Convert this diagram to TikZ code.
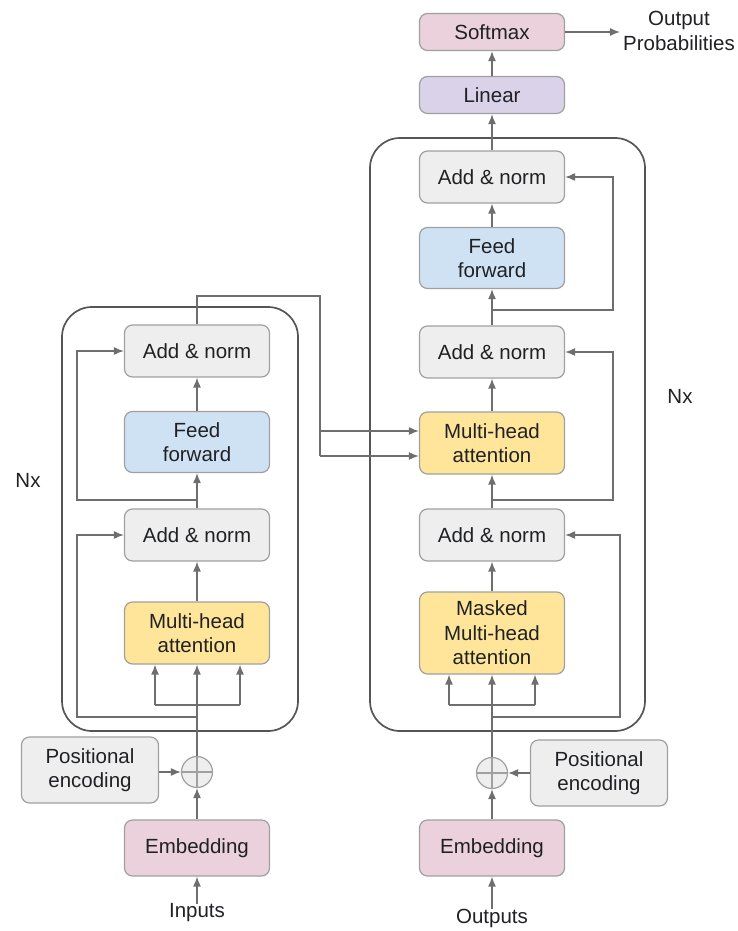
\documentclass[tikz,border=0pt]{standalone}
\usepackage{fontspec}
\setmainfont{Liberation Sans}
\usetikzlibrary{arrows.meta,calc}
\definecolor{boxgray}{HTML}{EEEEEE}
\definecolor{edge}{HTML}{A0A0A0}
\definecolor{ffblue}{HTML}{CFE2F3}
\definecolor{attnyel}{HTML}{FFE599}
\definecolor{embpink}{HTML}{EAD1DC}
\definecolor{linpurple}{HTML}{D9D2E9}
\definecolor{wire}{HTML}{6E6E6E}
\definecolor{framec}{HTML}{555555}
\definecolor{ink}{HTML}{202124}

\begin{document}
\begin{tikzpicture}[x=1pt,y=-1pt,
  font=\fontsize{20.5}{24.5}\selectfont, text=ink,
  blk/.style={draw=edge, line width=1.2pt, rounded corners=8pt,
              minimum width=145pt, align=center, inner sep=0pt},
  gbox/.style={blk, fill=boxgray, minimum height=52pt},
  ffbox/.style={blk, fill=ffblue, minimum height=61pt},
  attbox/.style={blk, fill=attnyel, minimum height=62pt},
  mattbox/.style={blk, fill=attnyel, minimum height=82pt},
  embbox/.style={blk, fill=embpink, minimum height=56pt},
  linbox/.style={blk, fill=linpurple, minimum height=37pt},
  smbox/.style={blk, fill=embpink, minimum height=37pt},
  pebox/.style={blk, fill=boxgray, minimum width=137pt, minimum height=66pt},
  frame/.style={draw=framec, line width=1.7pt, rounded corners=30pt, inner sep=0pt},
  plus/.style={circle, draw=edge, fill=boxgray, line width=1.2pt, minimum size=31pt, inner sep=0pt,
    path picture={\draw[edge, line width=1.2pt]
      (path picture bounding box.north) -- (path picture bounding box.south)
      (path picture bounding box.west) -- (path picture bounding box.east);}},
  lbl/.style={align=center, inner sep=0pt},
  ln/.style={draw=wire, line width=1.3pt},
  arr/.style={ln, -{Latex[length=10pt,width=8pt]}}
]
\useasboundingbox (0,0) rectangle (737,931);

% ---------- frames ----------
\node[frame, minimum width=236pt, minimum height=424pt] (encframe) at (180,519) {};
\node[frame, minimum width=275pt, minimum height=593pt] (decframe) at (507.5,434.5) {};
\node[lbl] (encnx) at (28,480) {Nx};
\node[lbl] (decnx) at (680,396) {Nx};

% ---------- encoder ----------
\node[lbl] (inp) at (197,913) {Inputs};
\node[embbox] (eemb) at (197,848) {Embedding};
\node[plus] (eplus) at (197,772) {};
\node[pebox] (epe) at (90,770) {Positional\\encoding};
\node[attbox] (emha) at (197,633) {Multi-head\\attention};
\node[gbox] (ean1) at (197,535) {Add \& norm};
\node[ffbox] (eff) at (197,442) {Feed\\forward};
\node[gbox] (ean2) at (197,351) {Add \& norm};

\coordinate (elx) at (77,0);
\coordinate (esl) at (155,705);
\coordinate (esr) at (240,705);
\coordinate (eres1) at (197,717);
\coordinate (eres2) at (197,500);

\draw[arr] (inp.north) -- (eemb.south);
\draw[arr] (eemb) -- (eplus);
\draw[arr] (epe.east |- eplus) -- (eplus);
\draw[arr] (eplus) -- (emha.south);
\draw[ln] (esl) -- (esr);
\draw[arr] (esl) -- (esl |- emha.south);
\draw[arr] (esr) -- (esr |- emha.south);
\draw[arr] (eres1) -- (eres1 -| elx) |- (ean1.west);
\draw[arr] (emha) -- (ean1);
\draw[arr] (ean1) -- (eff);
\draw[arr] (eres2) -- (eres2 -| elx) |- (ean2.west);
\draw[arr] (eff) -- (ean2);

% ---------- decoder ----------
\node[lbl] (outp) at (492,918) {Outputs};
\node[embbox] (demb) at (492,848) {Embedding};
\node[plus] (dplus) at (492,773) {};
\node[pebox] (dpe) at (599,773) {Positional\\encoding};
\node[mattbox] (dmmha) at (492,633) {Masked\\Multi-head\\attention};
\node[gbox] (dan1) at (492,535) {Add \& norm};
\node[attbox] (dmha) at (492,443) {Multi-head\\attention};
\node[gbox] (dan2) at (492,352) {Add \& norm};
\node[ffbox] (dff) at (492,258) {Feed\\forward};
\node[gbox] (dan3) at (492,177) {Add \& norm};
\node[linbox] (dlin) at (492,95) {Linear};
\node[smbox] (dsm) at (492,32) {Softmax};
\node[lbl] (prob) at (679,31) {Output\\Probabilities};

\coordinate (drx1) at (620,0);
\coordinate (drx2) at (613,0);
\coordinate (dsl) at (449,705);
\coordinate (dsr) at (535,705);
\coordinate (dres1) at (492,717);
\coordinate (dres2) at (492,500);
\coordinate (dres3) at (492,310);

\draw[arr] (outp.north) -- (demb.south);
\draw[arr] (demb) -- (dplus);
\draw[arr] (dpe.west |- dplus) -- (dplus);
\draw[arr] (dplus) -- (dmmha.south);
\draw[ln] (dsl) -- (dsr);
\draw[arr] (dsl) -- (dsl |- dmmha.south);
\draw[arr] (dsr) -- (dsr |- dmmha.south);
\draw[arr] (dres1) -- (dres1 -| drx1) |- (dan1.east);
\draw[arr] (dmmha) -- (dan1);
\draw[arr] (dan1) -- (dmha);
\draw[arr] (dres2) -- (dres2 -| drx2) |- (dan2.east);
\draw[arr] (dmha) -- (dan2);
\draw[arr] (dan2) -- (dff);
\draw[arr] (dres3) -- (dres3 -| drx2) |- (dan3.east);
\draw[arr] (dff) -- (dan3);
\draw[arr] (dan3) -- (dlin);
\draw[arr] (dlin) -- (dsm);
\draw[arr] (dsm.east) -- ($(dsm.east -| prob.west)+(-3,0)$);

% ---------- encoder output into decoder attention ----------
\coordinate (xtop) at (320,296);
\coordinate (xmid) at (320,431);
\coordinate (xbot) at (320,456);
\draw[ln] (ean2.north) |- (xtop) -- (xbot);
\draw[arr] (xmid) -- (xmid -| dmha.west);
\draw[arr] (xbot) -- (xbot -| dmha.west);
\end{tikzpicture}
\end{document}
